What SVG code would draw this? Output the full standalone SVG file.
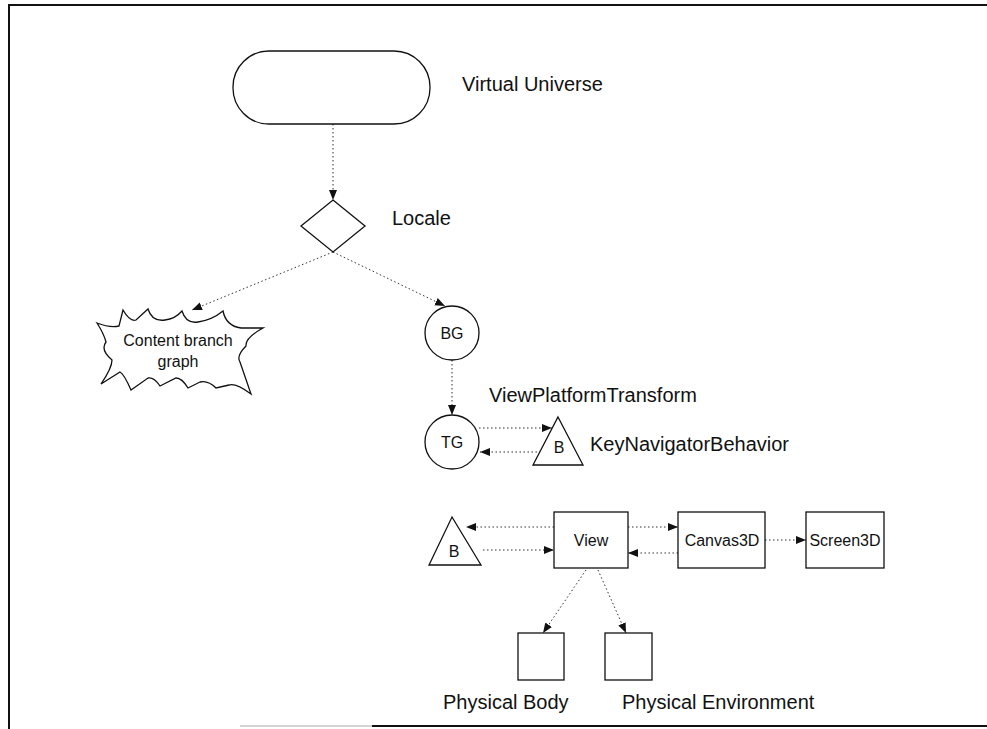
<svg xmlns="http://www.w3.org/2000/svg" width="987" height="729" viewBox="0 0 987 729">
<style>
.shape{fill:#fff;stroke:#111;stroke-width:1.3}
.conn{fill:none;stroke:#333;stroke-width:1;stroke-dasharray:1.5 2.5}
.lbl{font-family:"Liberation Sans",Arial,sans-serif;font-size:20px;fill:#111}
.in{font-family:"Liberation Sans",Arial,sans-serif;font-size:16px;fill:#111;text-anchor:middle}
.frame{stroke:#111;stroke-width:2;fill:none}
</style>
<defs>
<marker id="ah" viewBox="0 0 10 10" refX="10" refY="5" markerWidth="10" markerHeight="10" orient="auto" markerUnits="userSpaceOnUse">
<path d="M0,1 L10,5 L0,9 z" fill="#111"/>
</marker>
</defs>
<rect width="987" height="729" fill="#fff"/>
<g id="frame">
<line class="frame" x1="8" y1="5" x2="987" y2="5"/>
<line class="frame" x1="9" y1="5" x2="9" y2="729"/>
<line class="frame" x1="372" y1="726" x2="987" y2="726"/>
<line x1="240" y1="726" x2="372" y2="726" stroke="#aaa" stroke-width="1"/>
</g>
<g id="connectors">
<line class="conn" x1="333" y1="124" x2="333" y2="200" marker-end="url(#ah)"/>
<line class="conn" x1="333" y1="252" x2="192" y2="310" marker-end="url(#ah)"/>
<line class="conn" x1="333" y1="252" x2="445" y2="306" marker-end="url(#ah)"/>
<line class="conn" x1="452" y1="360" x2="452" y2="415" marker-end="url(#ah)"/>
<line class="conn" x1="479" y1="428" x2="552" y2="428" marker-end="url(#ah)"/>
<line class="conn" x1="541" y1="452" x2="480" y2="452" marker-end="url(#ah)"/>
<line class="conn" x1="554" y1="527" x2="466" y2="527" marker-end="url(#ah)"/>
<line class="conn" x1="483" y1="550" x2="554" y2="550" marker-end="url(#ah)"/>
<line class="conn" x1="628" y1="527" x2="678" y2="527" marker-end="url(#ah)"/>
<line class="conn" x1="678" y1="553" x2="628" y2="553" marker-end="url(#ah)"/>
<line class="conn" x1="765" y1="540" x2="806" y2="540" marker-end="url(#ah)"/>
<line class="conn" x1="586" y1="570" x2="543" y2="633" marker-end="url(#ah)"/>
<line class="conn" x1="598" y1="570" x2="626" y2="633" marker-end="url(#ah)"/>
</g>
<g id="virtual-universe">
<rect class="shape" x="233" y="51" width="197" height="73" rx="36" ry="36"/>
<text class="lbl" x="462" y="91">Virtual Universe</text>
</g>
<g id="locale">
<polygon class="shape" points="333,200 365,226 333,252 301,226"/>
<text class="lbl" x="392" y="225">Locale</text>
</g>
<g id="content-branch">
<path class="shape" d="M97,323 Q110,328 119,326 L123,310 Q130,322 136,320 L148,309 Q152,322 165,320 Q175,319 182,311 Q186,324 198,322 Q212,320 223,311 Q226,326 241,328 L263,328 Q245,338 246,346 Q236,356 240,362 L251,394 Q236,383 229,385 L216,388 Q208,380 200,382 L188,388 Q182,378 176,378 L160,386 Q154,377 148,378 L131,390 Q124,374 120,372 L101,384 Q112,368 112,360 Q100,350 106,342 Q104,334 97,323 Z"/>
<text class="in" x="178" y="346">Content branch</text>
<text class="in" x="178" y="367">graph</text>
</g>
<g id="bg">
<circle class="shape" cx="452" cy="333" r="27"/>
<text class="in" x="452" y="339">BG</text>
</g>
<g id="tg">
<circle class="shape" cx="452" cy="442" r="27"/>
<text class="in" x="452" y="448">TG</text>
<text class="lbl" x="489" y="402">ViewPlatformTransform</text>
</g>
<g id="key-navigator">
<polygon class="shape" points="558,417 583,465 533,465"/>
<text class="in" x="559" y="453">B</text>
<text class="lbl" x="590" y="451">KeyNavigatorBehavior</text>
</g>
<g id="behavior">
<polygon class="shape" points="452,517 481,565 429,565"/>
<text class="in" x="454" y="557">B</text>
</g>
<g id="view">
<rect class="shape" x="554" y="512" width="74" height="56"/>
<text class="in" x="591" y="546">View</text>
</g>
<g id="canvas3d">
<rect class="shape" x="678" y="512" width="87" height="56"/>
<text class="in" x="722" y="546">Canvas3D</text>
</g>
<g id="screen3d">
<rect class="shape" x="806" y="512" width="78" height="56"/>
<text class="in" x="845" y="546">Screen3D</text>
</g>
<g id="physical-body">
<rect class="shape" x="518" y="633" width="46" height="47"/>
<text class="lbl" x="443" y="709">Physical Body</text>
</g>
<g id="physical-environment">
<rect class="shape" x="605" y="633" width="47" height="47"/>
<text class="lbl" x="622" y="709">Physical Environment</text>
</g>
</svg>
